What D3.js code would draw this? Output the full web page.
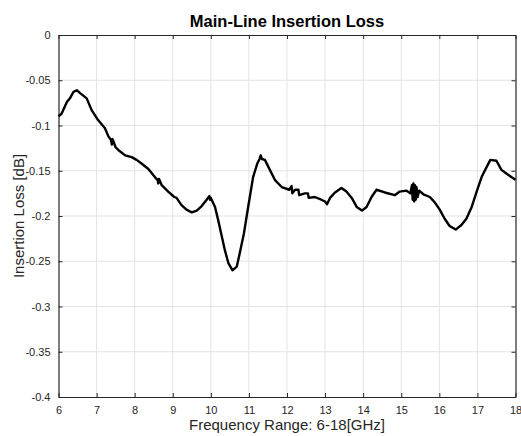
<!DOCTYPE html>
<html>
<head>
<meta charset="utf-8">
<script src="https://cdn.jsdelivr.net/npm/d3@7"></script>
<style>
  body { margin: 0; background: #fff; }
  svg { display: block; font-family: "Liberation Sans", Arial, Helvetica, sans-serif; }
</style>
</head>
<body>
<div id="chart"></div>
<script>
// frequency in GHz, loss in dB
const freq = [6.00, 6.08, 6.22, 6.30, 6.39, 6.48, 6.56, 6.74, 6.87, 7.04, 7.22, 7.31, 7.38, 7.40, 7.42, 7.50, 7.57, 7.75, 7.92, 8.05, 8.18, 8.36, 8.53, 8.60, 8.62, 8.64, 8.71, 8.88, 9.04,
  9.10, 9.23, 9.36, 9.50, 9.63, 9.76, 9.89, 9.96, 9.98, 10.00, 10.11, 10.19, 10.28, 10.37, 10.46, 10.57, 10.68, 10.76, 10.87, 10.98, 11.11, 11.22, 11.28, 11.31, 11.34, 11.42, 11.55, 11.68, 11.86, 12.06,
  12.12, 12.14, 12.21, 12.30, 12.32, 12.47, 12.55, 12.57, 12.73, 12.90, 13.00, 13.05, 13.13, 13.26, 13.43, 13.56, 13.70, 13.83, 13.97, 14.09, 14.22, 14.35, 14.57, 14.83, 14.96,
  15.14, 15.24, 15.28, 15.30, 15.32, 15.34, 15.36, 15.38, 15.40, 15.43, 15.47, 15.58, 15.75, 15.88, 16.01, 16.14, 16.27, 16.43, 16.58, 16.71, 16.85, 16.98, 17.11, 17.24, 17.34, 17.50, 17.63, 17.76, 17.89, 18.00];
const loss = [-0.090, -0.087, -0.074, -0.070, -0.063, -0.061, -0.064, -0.070, -0.083, -0.094, -0.103, -0.112, -0.116, -0.121, -0.115, -0.124, -0.127, -0.133, -0.135, -0.138, -0.142, -0.148, -0.157, -0.160, -0.164, -0.159, -0.166, -0.173, -0.179,
  -0.180, -0.188, -0.193, -0.196, -0.194, -0.189, -0.182, -0.178, -0.182, -0.180, -0.190, -0.204, -0.221, -0.238, -0.252, -0.260, -0.256, -0.241, -0.219, -0.190, -0.157, -0.142, -0.137, -0.133, -0.137, -0.138, -0.149, -0.160, -0.168, -0.171,
  -0.167, -0.175, -0.171, -0.171, -0.177, -0.175, -0.175, -0.180, -0.179, -0.182, -0.184, -0.187, -0.180, -0.174, -0.169, -0.173, -0.180, -0.190, -0.194, -0.190, -0.179, -0.171, -0.174, -0.177, -0.173,
  -0.172, -0.175, -0.166, -0.182, -0.164, -0.184, -0.166, -0.182, -0.168, -0.179, -0.172, -0.176, -0.179, -0.185, -0.193, -0.203, -0.211, -0.215, -0.210, -0.203, -0.190, -0.173, -0.157, -0.146, -0.138, -0.139, -0.149, -0.153, -0.157, -0.160];

const xTicks = [6, 7, 8, 9, 10, 11, 12, 13, 14, 15, 16, 17, 18];
const yTicks = [0, -0.05, -0.1, -0.15, -0.2, -0.25, -0.3, -0.35, -0.4];

const titleText = "Main-Line Insertion Loss";
const xLabel = "Frequency Range: 6-18[GHz]";
const yLabel = "Insertion Loss [dB]";

const width = 521, height = 436;
const margin = { top: 35, right: 5.5, bottom: 39, left: 58.5 };
const innerW = width - margin.left - margin.right;
const innerH = height - margin.top - margin.bottom;

const svg = d3.select("#chart").append("svg")
    .attr("width", width)
    .attr("height", height);

const x = d3.scaleLinear().domain([6, 18]).range([0, innerW]);
const y = d3.scaleLinear().domain([-0.4, 0]).range([innerH, 0]);

const bounds = svg.append("g")
    .attr("transform", `translate(${margin.left},${margin.top})`);

// grid
bounds.append("g")
    .selectAll("line")
    .data(xTicks.slice(1, -1))
    .join("line")
    .attr("x1", d => x(d)).attr("x2", d => x(d))
    .attr("y1", 0).attr("y2", innerH)
    .attr("stroke", "#e3e3e3")
    .attr("stroke-width", 1);

bounds.append("g")
    .selectAll("line")
    .data(yTicks.slice(1, -1))
    .join("line")
    .attr("x1", 0).attr("x2", innerW)
    .attr("y1", d => y(d)).attr("y2", d => y(d))
    .attr("stroke", "#e3e3e3")
    .attr("stroke-width", 1);

// axes (ticks pointing inward, box on all sides)
const axisColor = "#262626";
const tickFmt = d => String(d);

const xAxisBottom = bounds.append("g")
    .attr("transform", `translate(0,${innerH})`)
    .call(d3.axisBottom(x).tickValues(xTicks).tickSizeInner(-4).tickSizeOuter(0).tickPadding(9).tickFormat(tickFmt));
const xAxisTop = bounds.append("g")
    .call(d3.axisTop(x).tickValues(xTicks).tickSizeInner(-4).tickSizeOuter(0).tickFormat(""));
const yAxisLeft = bounds.append("g")
    .call(d3.axisLeft(y).tickValues(yTicks).tickSizeInner(-4).tickSizeOuter(0).tickPadding(8).tickFormat(tickFmt));
const yAxisRight = bounds.append("g")
    .attr("transform", `translate(${innerW},0)`)
    .call(d3.axisRight(y).tickValues(yTicks).tickSizeInner(-4).tickSizeOuter(0).tickFormat(""));

[xAxisBottom, xAxisTop, yAxisLeft, yAxisRight].forEach(a => {
    a.select(".domain").attr("stroke", axisColor).attr("stroke-width", 1.2);
    a.selectAll(".tick line").attr("stroke", axisColor);
    a.selectAll(".tick text")
        .attr("fill", axisColor)
        .style("font-size", "11px");
});

// data line
const points = freq.map((f, i) => ({ f: f, v: loss[i] }));
const line = d3.line()
    .x(d => x(d.f))
    .y(d => y(d.v));

bounds.append("path")
    .datum(points)
    .attr("fill", "none")
    .attr("stroke", "#000")
    .attr("stroke-width", 2.4)
    .attr("stroke-linejoin", "round")
    .attr("d", line);

// texts
svg.append("text")
    .attr("x", margin.left + innerW / 2)
    .attr("y", 27)
    .attr("text-anchor", "middle")
    .style("font-size", "16.5px")
    .style("font-weight", "bold")
    .attr("fill", "#000")
    .text(titleText);

svg.append("text")
    .attr("x", margin.left + innerW / 2)
    .attr("y", 430)
    .attr("text-anchor", "middle")
    .style("font-size", "15px")
    .attr("fill", axisColor)
    .text(xLabel);

svg.append("text")
    .attr("transform", `translate(24,${margin.top + innerH / 2}) rotate(-90)`)
    .attr("text-anchor", "middle")
    .style("font-size", "15px")
    .attr("fill", axisColor)
    .text(yLabel);
</script>
</body>
</html>
